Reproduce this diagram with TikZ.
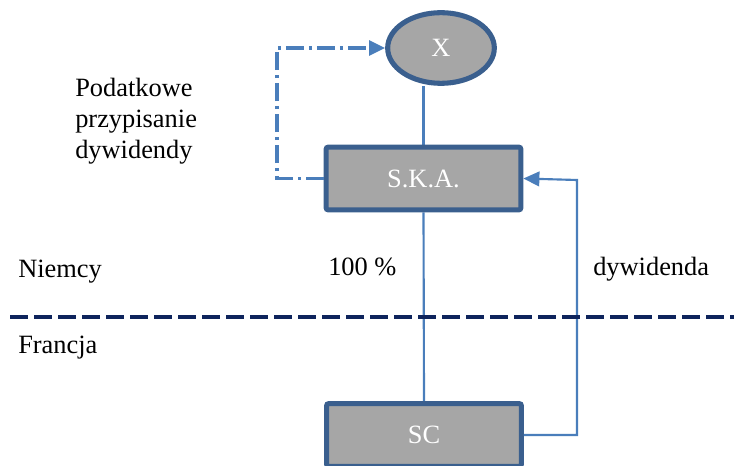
\documentclass[tikz,border=0pt]{standalone}
\usepackage{fontspec}
\setmainfont{Liberation Serif}
\usetikzlibrary{arrows.meta,backgrounds,shapes.geometric}
\definecolor{linkblue}{HTML}{4A7EBB}
\definecolor{boxedge}{HTML}{3A5F8E}
\definecolor{boxfill}{HTML}{A6A6A6}
\definecolor{bordernavy}{HTML}{0E245C}
\tikzset{
  entity/.style={draw=boxedge,line width=3.8pt,fill=boxfill,text=white,inner sep=0pt},
  firm/.style={entity,rectangle,rounded corners=1.5pt,minimum width=146pt,minimum height=47pt},
  owner/.style={entity,ellipse,minimum width=80pt,minimum height=53pt},
  link/.style={linkblue,line width=1.6pt},
  flow/.style={link,-{Triangle[length=12pt,width=11pt]}},
  taxflow/.style={linkblue,line width=2.6pt,dash pattern=on 13.5pt off 3.75pt on 2.25pt off 3.75pt,-{Triangle[length=12pt,width=11pt]}},
  label/.style={inner sep=0pt,anchor=base west}
}
\begin{document}
\begin{tikzpicture}[x=0.75pt,y=-0.75pt,font=\fontsize{19.8}{23.25}\selectfont]
\useasboundingbox (0,0) rectangle (734,466);
\node[owner] (X) at (441,48) {X};
\node[firm] (SKA) at (423.5,178.5) {S.K.A.};
\node[firm] (SC) at (424,435) {SC};
\coordinate (taxturn) at (277,48);
\coordinate (divturn) at (577,180);
\begin{scope}[on background layer]
\draw[link] (SKA.north) -- (SKA.north |- X.south);
\draw[link] (SKA.south) -- (SC.north);
\end{scope}
\draw[taxflow] (SKA.west) -| (taxturn) -- (X.west);
\draw[flow] (SC.east) -| (divturn) -- (SKA.east);
\draw[bordernavy,line width=3.4pt,dash pattern=on 13.5pt off 4.5pt] (10,317) -- (734,317);
\node[label,align=left] (tax) at (75,159) {Podatkowe\\przypisanie\\dywidendy};
\node[label] (de) at (18,277) {Niemcy};
\node[label] (share) at (328,276) {100 \%};
\node[label] (div) at (593,276) {dywidenda};
\node[label] (fr) at (18,353) {Francja};
\end{tikzpicture}
\end{document}
